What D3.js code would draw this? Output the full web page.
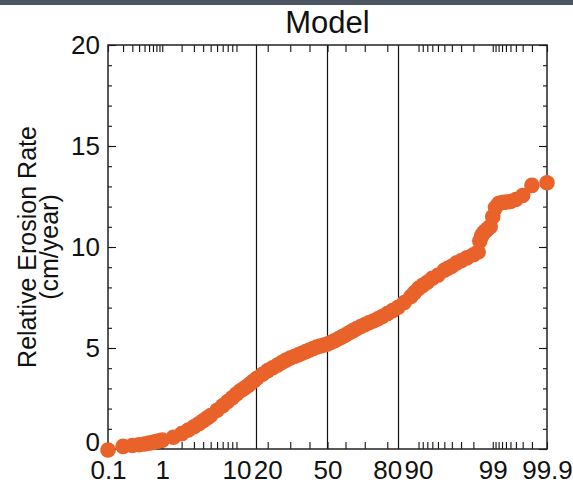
<!DOCTYPE html>
<html>
<head>
<meta charset="utf-8">
<script src="https://cdn.jsdelivr.net/npm/d3@7"></script>
<style>
  body { margin: 0; background: #fff; }
  svg { display: block; font-family: "Liberation Sans", Arial, sans-serif; }
</style>
</head>
<body>
<div id="chart"></div>
<script>
// Cumulative probability (%) of each ranked point and its erosion rate (cm/year)
var percents = [0.1, 0.2, 0.3, 0.4, 0.5, 0.6, 0.7, 0.8, 0.9, 1.0,
  1.5, 2.0, 2.5, 3.0, 3.5, 4.0, 4.5, 5.0, 6.0, 7.0, 8.0, 9.0, 10,
  11, 12, 13, 14, 15, 16, 18, 20, 22, 24, 26, 28, 30, 32, 34, 36, 38,
  40, 42, 44, 46, 48, 50, 52, 54, 56, 58, 60, 62, 64, 66, 68, 70,
  72, 74, 76, 78, 80, 82, 84, 86, 88, 89, 90, 91, 92, 93, 94, 95,
  95.5, 96, 96.5, 97, 97.5, 98, 98.3, 98.4, 98.5, 98.6, 98.7, 98.8, 98.9,
  99.0, 99.1, 99.2, 99.3, 99.4, 99.5, 99.6, 99.7, 99.8, 99.9];
var rates = [-0.05, 0.13, 0.17, 0.21, 0.25, 0.29, 0.33, 0.37, 0.41, 0.44,
  0.58, 0.76, 0.94, 1.1, 1.25, 1.4, 1.53, 1.66, 1.92, 2.14, 2.35, 2.54, 2.72,
  2.88, 3.0, 3.12, 3.25, 3.38, 3.5, 3.7, 3.88, 4.02, 4.15, 4.28, 4.4, 4.5, 4.58, 4.66, 4.74, 4.82,
  4.9, 4.97, 5.05, 5.1, 5.15, 5.2, 5.28, 5.36, 5.46, 5.55, 5.64, 5.75, 5.86, 5.96, 6.06, 6.15,
  6.25, 6.34, 6.44, 6.56, 6.7, 6.85, 7.02, 7.25, 7.55, 7.75, 7.95, 8.1, 8.25, 8.45, 8.6, 8.85,
  8.95, 9.05, 9.2, 9.32, 9.46, 9.62, 9.75, 10.3, 10.55, 10.7, 10.8, 10.9, 11.0,
  11.5, 11.95, 12.15, 12.2, 12.22, 12.25, 12.35, 12.55, 13.05, 13.18];

// Axis ticks
var xLabels = [0.1, 1, 10, 20, 50, 80, 90, 99, 99.9];
var xMinor = [0.1, 0.2, 0.3, 0.4, 0.5, 0.6, 0.7, 0.8, 0.9, 1, 2, 3, 4, 5, 6, 7, 8, 9, 10,
  20, 30, 40, 50, 60, 70, 80, 90, 91, 92, 93, 94, 95, 96, 97, 98, 99,
  99.1, 99.2, 99.3, 99.4, 99.5, 99.6, 99.7, 99.8, 99.9];
var refLines = [15.87, 50, 84.13];   // -1 sigma, median, +1 sigma
var yLabels = [0, 5, 10, 15, 20];
var yMinor = d3.range(0, 21, 1);

var svgWidth = 573;
var svgHeight = 489;
var margin = { top: 45, right: 26, bottom: 40, left: 108 };
var width = svgWidth - margin.left - margin.right;
var height = svgHeight - margin.top - margin.bottom;

// Inverse of the normal cumulative distribution (Acklam)
function probit(p) {
  var a = [-39.69683028665376, 220.9460984245205, -275.9285104469687, 138.3577518672690, -30.66479806614716, 2.506628277459239];
  var b = [-54.47609879822406, 161.5858368580409, -155.6989798598866, 66.80131188771972, -13.28068155288572];
  var c = [-0.007784894002430293, -0.3223964580411365, -2.400758277161838, -2.549732539343734, 4.374664141464968, 2.938163982698783];
  var d = [0.007784695709041462, 0.3224671290700398, 2.445134137142996, 3.754408661907416];
  var q, r;
  if (p < 0.02425) {
    q = Math.sqrt(-2 * Math.log(p));
    return (((((c[0]*q+c[1])*q+c[2])*q+c[3])*q+c[4])*q+c[5]) / ((((d[0]*q+d[1])*q+d[2])*q+d[3])*q+1);
  }
  if (p > 1 - 0.02425) {
    q = Math.sqrt(-2 * Math.log(1 - p));
    return -(((((c[0]*q+c[1])*q+c[2])*q+c[3])*q+c[4])*q+c[5]) / ((((d[0]*q+d[1])*q+d[2])*q+d[3])*q+1);
  }
  q = p - 0.5; r = q * q;
  return (((((a[0]*r+a[1])*r+a[2])*r+a[3])*r+a[4])*r+a[5])*q / (((((b[0]*r+b[1])*r+b[2])*r+b[3])*r+b[4])*r+1);
}
var z = function(pct) { return probit(pct / 100); };

var svg = d3.select("#chart")
  .append("svg")
  .attr("width", svgWidth)
  .attr("height", svgHeight);

// dark strip along the top of the figure
svg.append("rect")
  .attr("x", 0).attr("y", 0)
  .attr("width", svgWidth).attr("height", 5)
  .attr("fill", "#4a5561");

var chartGroup = svg.append("g")
  .attr("transform", `translate(${margin.left}, ${margin.top})`);

var xScale = d3.scaleLinear()
  .domain([z(0.1), z(99.9)])
  .range([0, width]);

var yScale = d3.scaleLinear()
  .domain([0, 20])
  .range([height, 0]);

var fmt = function(d) {
  var p = xLabels.find(v => Math.abs(z(v) - d) < 1e-9);
  return p === undefined ? "" : String(p);
};

// reference lines
chartGroup.selectAll("line.ref")
  .data(refLines)
  .enter()
  .append("line")
  .attr("class", "ref")
  .attr("x1", d => xScale(z(d)))
  .attr("x2", d => xScale(z(d)))
  .attr("y1", 0)
  .attr("y2", height)
  .attr("stroke", "#111")
  .attr("stroke-width", 1.2);

// minor ticks, top and bottom
var bottomMinor = d3.axisBottom(xScale).tickValues(xMinor.map(z)).tickSizeInner(-7).tickSizeOuter(0).tickFormat("");
var topMinor = d3.axisTop(xScale).tickValues(xMinor.map(z)).tickSizeInner(-7).tickSizeOuter(0).tickFormat("");
chartGroup.append("g").attr("class", "axis").attr("transform", `translate(0, ${height})`).call(bottomMinor);
chartGroup.append("g").attr("class", "axis").call(topMinor);

// labels on bottom axis
var bottomAxis = d3.axisBottom(xScale).tickValues(xLabels.map(z)).tickSizeInner(0).tickSizeOuter(0).tickPadding(12).tickFormat(fmt);
chartGroup.append("g").attr("class", "axis xlab").attr("transform", `translate(0, ${height})`).call(bottomAxis);

// y minor ticks, left and right
var leftMinor = d3.axisLeft(yScale).tickValues(yMinor).tickSizeInner(-4).tickSizeOuter(0).tickFormat("");
var rightMinor = d3.axisRight(yScale).tickValues(yMinor).tickSizeInner(-4).tickSizeOuter(0).tickFormat("");
chartGroup.append("g").attr("class", "axis").call(leftMinor);
chartGroup.append("g").attr("class", "axis").attr("transform", `translate(${width}, 0)`).call(rightMinor);

var leftAxis = d3.axisLeft(yScale).tickValues(yLabels).tickSizeInner(-8).tickSizeOuter(0).tickPadding(8);
var rightAxis = d3.axisRight(yScale).tickValues(yLabels).tickSizeInner(-8).tickSizeOuter(0).tickFormat("");
chartGroup.append("g").attr("class", "axis ylab").call(leftAxis);
chartGroup.append("g").attr("class", "axis").attr("transform", `translate(${width}, 0)`).call(rightAxis);

chartGroup.selectAll(".axis path").remove();
chartGroup.selectAll(".axis line").attr("stroke", "#111").attr("stroke-width", 1.1);
chartGroup.selectAll(".axis text")
  .attr("font-family", "Liberation Sans, Arial, sans-serif")
  .attr("font-size", "26px")
  .attr("fill", "#111");
// the 0 label sits a little above its tick
chartGroup.selectAll(".ylab .tick text").filter(d => d === 0).attr("dy", "0.05em");

// plot frame
chartGroup.append("rect")
  .attr("width", width)
  .attr("height", height)
  .attr("fill", "none")
  .attr("stroke", "#222")
  .attr("stroke-width", 1.5);

// points
var points = percents.map((p, i) => ({ p: p, v: rates[i] }));
chartGroup.selectAll("circle")
  .data(points)
  .enter()
  .append("circle")
  .attr("cx", d => xScale(z(d.p)))
  .attr("cy", d => yScale(d.v))
  .attr("r", 7.8)
  .style("fill", "#e8622a");

// title
svg.append("text")
  .attr("x", margin.left + width / 2)
  .attr("y", 33)
  .attr("text-anchor", "middle")
  .attr("font-size", "31px")
  .attr("fill", "#111")
  .text("Model");

// y axis title
var yTitle = svg.append("text")
  .attr("transform", `translate(36, ${margin.top + height / 2}) rotate(-90)`)
  .attr("text-anchor", "middle")
  .attr("font-size", "25px")
  .attr("fill", "#111");
yTitle.append("tspan").attr("x", 0).attr("y", 0).text("Relative Erosion Rate");
yTitle.append("tspan").attr("x", 0).attr("y", 22).text("(cm/year)");
</script>
</body>
</html>
